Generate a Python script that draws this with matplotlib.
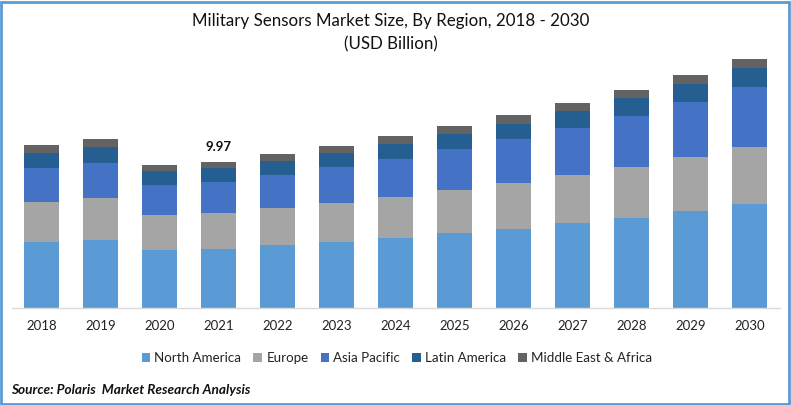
import matplotlib
matplotlib.use("Agg")
import matplotlib.pyplot as plt
from matplotlib.patches import Rectangle

plt.rcParams['font.family'] = ['Lato', 'DejaVu Sans']

years = ["2018", "2019", "2020", "2021", "2022", "2023", "2024", "2025", "2026", "2027", "2028", "2029", "2030"]
north_america = [4.51, 4.64, 3.96, 4.03, 4.30, 4.51, 4.78, 5.12, 5.40, 5.81, 6.15, 6.63, 7.10]
europe = [2.73, 2.87, 2.39, 2.46, 2.53, 2.66, 2.80, 2.94, 3.14, 3.28, 3.48, 3.69, 3.89]
asia_pacific = [2.32, 2.39, 2.05, 2.12, 2.25, 2.46, 2.60, 2.80, 3.01, 3.21, 3.48, 3.76, 4.10]
latin_america = [1.02, 1.09, 0.96, 0.96, 0.96, 0.96, 1.02, 1.02, 1.02, 1.16, 1.23, 1.23, 1.30]
middle_east = [0.55, 0.55, 0.41, 0.41, 0.48, 0.48, 0.55, 0.55, 0.61, 0.55, 0.55, 0.61, 0.61]

series = [
    ("North America", north_america, "#5B9BD5"),
    ("Europe", europe, "#A5A5A5"),
    ("Asia Pacific", asia_pacific, "#4472C4"),
    ("Latin America", latin_america, "#255E91"),
    ("Middle East & Africa", middle_east, "#636363"),
]

W, H = 791, 405
fig = plt.figure(figsize=(W / 100, H / 100), dpi=100)

# axes placed in pixels: baseline at y=308, top at y=40
ax = fig.add_axes([12 / W, (H - 308) / H, 767.5 / W, 268 / H])
ax.set_xlim(-0.5, 12.5)
ax.set_ylim(0, 268 / 14.64)

bottom = [0] * len(years)
for name, values, color in series:
    ax.bar(range(len(years)), values, 0.593, bottom=bottom, color=color, label=name, linewidth=0)
    bottom = [b + v for b, v in zip(bottom, values)]

ax.text(3, bottom[3] + 0.62, "9.97", ha="center", va="bottom", fontsize=9.5, fontweight="bold", color="#111111")

for s in ["top", "left", "right"]:
    ax.spines[s].set_visible(False)
ax.spines["bottom"].set_color("#D9D9D9")
ax.spines["bottom"].set_linewidth(1)
ax.set_yticks([])
ax.set_xticks(range(len(years)))
ax.set_xticklabels(years, fontsize=9.5, color="#222222")
ax.tick_params(axis="x", length=0, pad=9)

fig.text(391 / W, 1 - 21 / H, "Military Sensors Market Size, By Region, 2018 - 2030", ha="center", va="center", fontsize=12.2, color="#111111")
fig.text(391 / W, 1 - 44 / H, "(USD Billion)", ha="center", va="center", fontsize=12.2, color="#111111")

ax.legend(loc="center", bbox_to_anchor=(397 / W, 1 - 358 / H), bbox_transform=fig.transFigure,
          ncol=5, frameon=False, fontsize=9.6, handlelength=0.62, handleheight=0.62,
          handletextpad=0.35, columnspacing=0.9, labelcolor="#222222")

fig.text(11 / W, 1 - 390.5 / H, "Source: Polaris  Market Research Analysis", ha="left", va="center",
         fontsize=9.8, fontweight="bold", fontstyle="italic", color="#111111")

# blue frame round the picture
fig.add_artist(Rectangle((1 / W, 1 / H), (W - 3) / W, (H - 3) / H, transform=fig.transFigure,
                         fill=False, edgecolor="#5B9BD5", linewidth=2))

fig.savefig("out.png", dpi=100)
